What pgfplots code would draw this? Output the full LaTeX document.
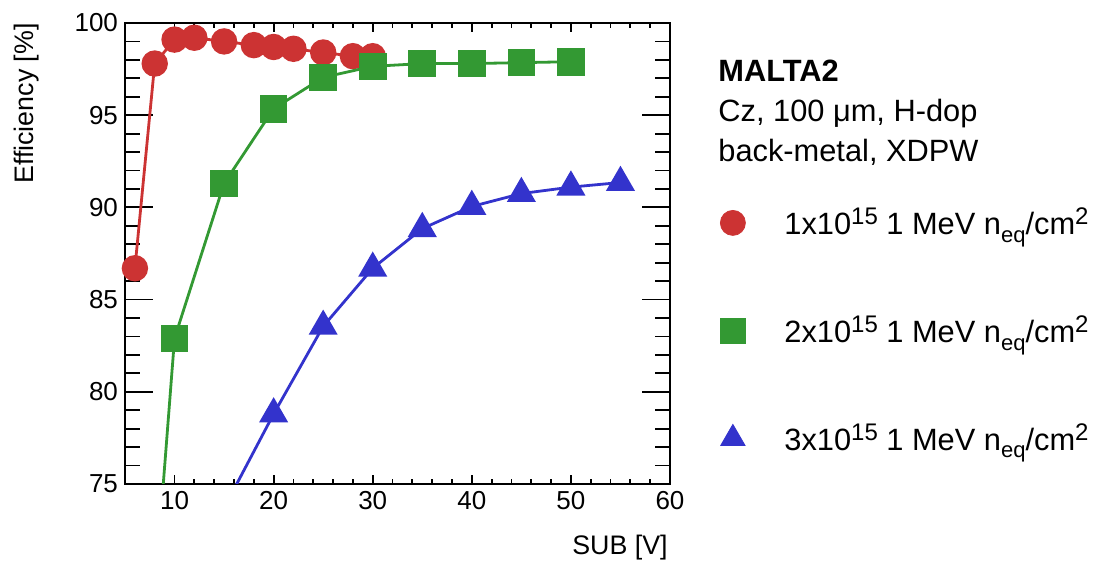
\documentclass[border=0pt]{standalone}
\usepackage{pgfplots}
\pgfplotsset{compat=1.18}
\usepackage{fontspec}
\setmainfont{Liberation Sans}
\definecolor{cRed}{RGB}{204,51,51}
\definecolor{cGreen}{RGB}{51,153,51}
\definecolor{cBlue}{RGB}{51,51,204}
\newcommand{\sups}[1]{\raisebox{5pt}{\fontsize{12}{12}\selectfont #1}}
\newcommand{\subs}[1]{\raisebox{-3.8pt}{\fontsize{11}{11}\selectfont #1}}
\newcommand{\fluence}[1]{#1x10\sups{15} 1 MeV n\subs{eq}/cm\sups{2}}
\begin{document}
\begin{tikzpicture}
\useasboundingbox (-62.5pt,-39pt) rectangle (491.5pt,242pt);
\begin{axis}[
  at={(0,0)}, anchor=south west,
  scale only axis, width=272.5pt, height=230.5pt,
  xmin=5, xmax=60, ymin=75, ymax=100,
  xtick={10,20,...,60}, ytick={75,80,...,100},
  minor x tick num=4, minor y tick num=4,
  tick align=inside,
  axis line style={line width=1pt, black},
  xtick style={/pgfplots/major tick length=4.5pt, /pgfplots/minor tick length=2.5pt, line width=0.9pt, black},
  ytick style={/pgfplots/major tick length=14pt, /pgfplots/minor tick length=7.5pt, line width=0.9pt, black},
  tick label style={font=\fontsize{13}{14}\selectfont},
  /pgf/number format/assume math mode=true,
  xlabel={SUB [V]},
  ylabel={Efficiency [\%]},
  xlabel style={at={(rel axis cs:1,0)}, anchor=base east, yshift=-35.5pt, xshift=-1pt, font=\fontsize{13.4}{14}\selectfont, inner sep=0pt},
  ylabel style={at={(rel axis cs:-0.1679,1)}, anchor=base east, font=\fontsize{13.4}{14}\selectfont, inner sep=0pt},
  clip mode=individual,
  legend style={at={(axis description cs:1.0917,0.5995)}, anchor=north west, draw=none, fill=none,
    font=\fontsize{15.4}{18}\selectfont, row sep=39pt, inner sep=0pt,
    nodes={inner sep=0pt}},
  legend cell align=left,
  /tikz/every odd column/.append style={column sep=19.5pt},
]
% red
\addplot[cRed, line width=1.4pt, mark=*, mark size=5.9pt, mark options={solid, fill=cRed, draw=cRed}, forget plot] coordinates {
(6,86.7) (8,97.8) (10,99.1) (12,99.2) (15,99.0) (18,98.8) (20,98.7) (22,98.6) (25,98.4) (28,98.2) (30,98.2)
};
% green, segment below range
\addplot[cGreen, line width=1.4pt, no marks, forget plot] coordinates {
(8,69.0) (10,82.9)
};
\addplot[cGreen, line width=1.4pt, mark=square*, mark size=6.2pt, mark options={solid, fill=cGreen, draw=cGreen}, forget plot] coordinates {
(10,82.9) (15,91.3) (20,95.35) (25,97.05) (30,97.65) (35,97.8) (40,97.8) (45,97.85) (50,97.9)
};
% blue, segment below range
\addplot[cBlue, line width=1.4pt, no marks, forget plot] coordinates {
(15,73.7) (20,78.8)
};
\addplot[cBlue, line width=1.4pt, mark=triangle*, mark size=7pt, mark options={solid, fill=cBlue, draw=cBlue}, forget plot] coordinates {
(20,78.8) (25,83.55) (30,86.7) (35,88.85) (40,90.05) (45,90.75) (50,91.1) (55,91.35)
};
\addlegendimage{only marks, mark=*, mark size=6.25pt, cRed, mark options={fill=cRed, draw=cRed}}
\addlegendentry{\fluence{1}}
\addlegendimage{only marks, mark=square*, mark size=6.25pt, cGreen, mark options={fill=cGreen, draw=cGreen}}
\addlegendentry{\fluence{2}}
\addlegendimage{only marks, mark=triangle*, mark size=7pt, cBlue, mark options={fill=cBlue, draw=cBlue}}
\addlegendentry{\fluence{3}}
\end{axis}
\node[anchor=base west, inner sep=0pt, font=\fontsize{15.4}{18}\selectfont\bfseries] at (296.5pt,201.15pt) {MALTA2};
\node[anchor=base west, inner sep=0pt, font=\fontsize{15.4}{18}\selectfont] at (296.5pt,181.15pt) {Cz, 100 μm, H-dop};
\node[anchor=base west, inner sep=0pt, font=\fontsize{15.4}{18}\selectfont] at (296.5pt,161.15pt) {back-metal, XDPW};
\end{tikzpicture}
\end{document}
